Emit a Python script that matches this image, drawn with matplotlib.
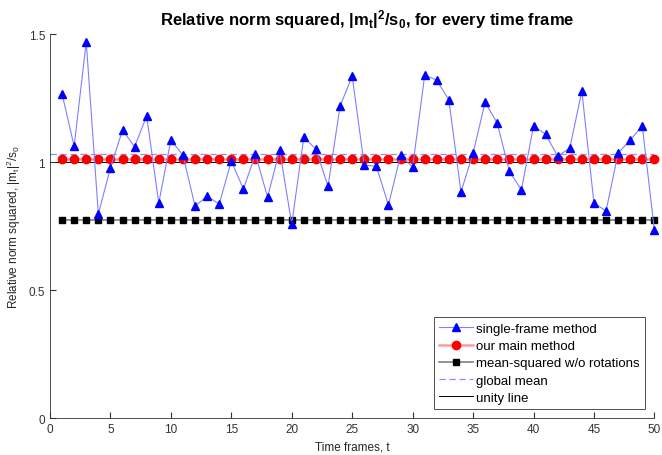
import matplotlib
matplotlib.use("Agg")
import matplotlib.pyplot as plt
import numpy as np

plt.rcParams['font.family'] = ['Liberation Sans', 'DejaVu Sans']
plt.rcParams['mathtext.default'] = 'regular'

# time frames and per-frame values
t = np.arange(1, 51)
single_frame = [1.266, 1.062, 1.47, 0.797, 0.977, 1.125, 1.06, 1.18, 0.84, 1.086,
                1.027, 0.828, 0.867, 0.836, 1.004, 0.895, 1.03, 0.863, 1.047, 0.758,
                1.098, 1.05, 0.906, 1.219, 1.336, 0.988, 0.984, 0.832, 1.027, 0.98,
                1.34, 1.32, 1.242, 0.883, 1.035, 1.234, 1.152, 0.965, 0.891, 1.141,
                1.109, 1.023, 1.055, 1.277, 0.84, 0.809, 1.035, 1.086, 1.141, 0.734]
main_method = [1.012] * 50
mean_sq_norot = [0.775] * 50
global_mean = 1.031
unity = 1.0

fig = plt.figure(figsize=(6.62, 4.56), dpi=100)
ax = fig.add_axes([0.0755, 0.081, 0.913, 0.842])

ax.plot(t, single_frame, color='#8080ff', lw=0.8, marker='^', ms=6,
        mfc='blue', mec='blue', label='single-frame method', clip_on=False, zorder=4)
ax.plot(t, main_method, color='#ff9a9a', lw=1.8, marker='o', ms=6,
        mfc='red', mec='red', label='our main method', clip_on=False, zorder=3)
ax.plot(t, mean_sq_norot, color='#808080', lw=1.2, marker='s', ms=4.5,
        mfc='black', mec='black', label='mean-squared w/o rotations', clip_on=False)
ax.axhline(global_mean, color='#8c8cff', lw=0.9, ls='--', dashes=(5, 3), label='global mean')
ax.axhline(unity, color='black', lw=0.7, label='unity line', zorder=1.5)

ax.set_xlim(0, 50)
ax.set_ylim(0, 1.5)
ax.set_xticks(np.arange(0, 51, 5))
ax.set_yticks([0, 0.5, 1, 1.5])
ax.set_yticklabels(['0', '0.5', '1', '1.5'])
ax.tick_params(direction='in', labelsize=8.5, colors='#333333', length=4)
for s in ['top', 'right']:
    ax.spines[s].set_visible(False)
for s in ['left', 'bottom']:
    ax.spines[s].set_color('#333333')
    ax.spines[s].set_linewidth(0.6)

ax.set_xlabel('Time frames, t', fontsize=8.5, color='#262626')
ax.set_ylabel('Relative norm squared, |m$_t$|$^2$/s$_0$', fontsize=8.5, color='#262626')
ax.set_title('Relative norm squared, |m$_t$|$^2$/s$_0$, for every time frame',
             fontsize=12, fontweight='bold', x=0.525, pad=7)

leg = ax.legend(loc='lower right', bbox_to_anchor=(0.985, 0.023), borderaxespad=0,
                fontsize=9.5, fancybox=False, edgecolor='#333333', framealpha=1,
                handlelength=2.6, borderpad=0.4, labelspacing=0.38, handletextpad=0.25)
leg.get_frame().set_linewidth(0.6)

fig.savefig('out.png', dpi=100)
